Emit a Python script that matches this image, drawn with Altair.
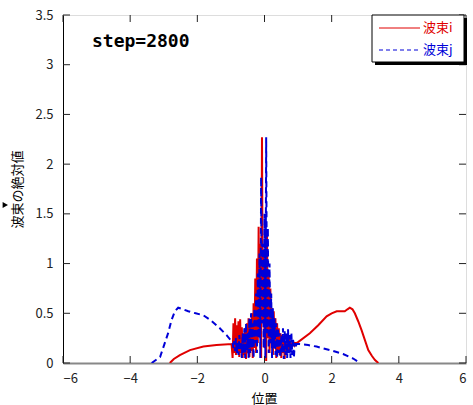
import altair as alt
import pandas as pd

# ---- data ----
grid_c = [round(-0.95 + 0.025 * i, 3) for i in range(77)]  # sampling grid of the central region

red_left_x = [-2.82, -2.70, -2.52, -2.22, -1.82, -1.43, -0.98]
red_left_y = [0.0, 0.04, 0.08, 0.13, 0.165, 0.18, 0.19]
red_mid_y = [0.05, 0.40, 0.10, 0.45, 0.08, 0.38, 0.12, 0.42, 0.06, 0.44,
             0.10, 0.36, 0.05, 0.30, 0.08, 0.35, 0.04, 0.40, 0.10, 0.45,
             0.06, 0.38, 0.12, 0.50, 0.05, 0.60, 0.15, 0.85, 0.10, 1.05,
             0.20, 1.37, 0.30, 1.20, 0.05, 2.27, 0.40, 1.10, 0.15, 0.95,
             0.02, 1.30, 0.25, 0.90, 0.10, 0.75, 0.20, 0.55, 0.08, 0.52,
             0.15, 0.45, 0.05, 0.40, 0.12, 0.35, 0.08, 0.30, 0.05, 0.28,
             0.10, 0.25, 0.04, 0.22, 0.08, 0.26, 0.10, 0.25, 0.12, 0.22,
             0.15, 0.20, 0.17, 0.21, 0.18, 0.20, 0.20]
red_right_x = [1.00, 1.35, 1.60, 1.85, 2.00, 2.15, 2.39, 2.47, 2.54, 2.62,
               2.69, 2.79, 2.89, 3.00, 3.09, 3.20, 3.29, 3.39]
red_right_y = [0.21, 0.30, 0.38, 0.47, 0.50, 0.52, 0.52, 0.54, 0.556, 0.54,
               0.50, 0.42, 0.33, 0.22, 0.13, 0.07, 0.03, 0.0]

blue_left_x = [-3.36, -3.11, -2.87, -2.77, -2.67, -2.57, -2.42, -2.27, -2.05,
               -1.82, -1.60, -1.33, -1.13, -0.98]
blue_left_y = [0.0, 0.06, 0.30, 0.43, 0.52, 0.556, 0.54, 0.52, 0.50,
               0.48, 0.43, 0.35, 0.28, 0.22]
blue_mid_y = [0.20, 0.15, 0.22, 0.12, 0.25, 0.10, 0.20, 0.08, 0.28, 0.12,
              0.22, 0.05, 0.30, 0.10, 0.35, 0.05, 0.40, 0.12, 0.30, 0.05,
              0.45, 0.10, 0.50, 0.15, 0.40, 0.05, 0.55, 0.20, 0.70, 0.10,
              0.90, 0.25, 1.10, 0.05, 1.87, 0.40, 1.20, 0.15, 1.50, 0.05,
              2.27, 0.30, 1.36, 0.10, 1.00, 0.20, 0.70, 0.05, 0.55, 0.15,
              0.45, 0.08, 0.40, 0.05, 0.35, 0.10, 0.30, 0.06, 0.28, 0.10,
              0.35, 0.04, 0.32, 0.08, 0.30, 0.05, 0.34, 0.10, 0.28, 0.05,
              0.30, 0.08, 0.25, 0.05, 0.20, 0.15, 0.19]
blue_right_x = [1.05, 1.30, 1.55, 1.95, 2.34, 2.64, 2.84]
blue_right_y = [0.19, 0.18, 0.165, 0.13, 0.09, 0.045, 0.0]

x_ticks = [-6, -4, -2, 0, 2, 4, 6]
y_ticks = [0, 0.5, 1, 1.5, 2, 2.5, 3, 3.5]

W, H = 403, 348
FONT = "Noto Sans CJK JP"

red = pd.DataFrame({"x": red_left_x + grid_c + red_right_x,
                    "y": red_left_y + red_mid_y + red_right_y})
blue = pd.DataFrame({"x": blue_left_x + grid_c + blue_right_x,
                     "y": blue_left_y + blue_mid_y + blue_right_y})

xs = alt.Scale(domain=[-6, 6], nice=False, zero=False)
ys = alt.Scale(domain=[0, 3.5], nice=False)

x_axis = alt.Axis(values=x_ticks, ticks=False, grid=False, title="位置",
                  labelPadding=9, labelFontSize=13, labelFont=FONT,
                  labelColor="#222", domainColor="#888", domainWidth=2,
                  titleFont=FONT, titleFontSize=13, titleFontWeight="normal",
                  titleX=201, titleY=35, titleBaseline="middle", format="~g")
y_axis = alt.Axis(values=y_ticks, ticks=False, grid=False, title="波束の絶対値",
                  labelPadding=10, labelFontSize=13, labelFont=FONT,
                  labelColor="#222", domainColor="#000", domainWidth=1,
                  titleFont=FONT, titleFontSize=13, titleFontWeight="normal",
                  titleX=-46, titleY=174, titleAngle=-90, titleAlign="center",
                  titleBaseline="middle", format="~g")

red_line = alt.Chart(red).mark_line(color="#e00000", strokeWidth=2, clip=True).encode(
    x=alt.X("x:Q", scale=xs, axis=x_axis),
    y=alt.Y("y:Q", scale=ys, axis=y_axis),
)
blue_line = alt.Chart(blue).mark_line(color="#0000d8", strokeWidth=2,
                                      strokeDash=[6, 4], clip=True).encode(
    x=alt.X("x:Q", scale=xs),
    y=alt.Y("y:Q", scale=ys),
)

xt = pd.DataFrame({"v": x_ticks})
yt = pd.DataFrame({"v": y_ticks})
tick_bot = alt.Chart(xt).mark_rule(color="#222", strokeWidth=1).encode(
    x=alt.X("v:Q", scale=xs), y=alt.value(H), y2=alt.value(H - 7))
tick_top = alt.Chart(xt).mark_rule(color="#222", strokeWidth=1).encode(
    x=alt.X("v:Q", scale=xs), y=alt.value(0), y2=alt.value(7))
tick_left = alt.Chart(yt).mark_rule(color="#222", strokeWidth=1).encode(
    y=alt.Y("v:Q", scale=ys), x=alt.value(0), x2=alt.value(7))
tick_right = alt.Chart(yt).mark_rule(color="#222", strokeWidth=1).encode(
    y=alt.Y("v:Q", scale=ys), x=alt.value(W), x2=alt.value(W - 7))

one = pd.DataFrame({"a": [0]})
step_text = alt.Chart(one).mark_text(text="step=2800", font="DejaVu Sans Mono",
                                     fontWeight="bold", fontSize=18, align="left",
                                     baseline="middle", color="#000").encode(
    x=alt.value(29), y=alt.value(27))
marker = alt.Chart(one).mark_point(shape="M-0.8,-1L1,0L-0.8,1Z", filled=True,
                                   size=36, color="#000", opacity=1).encode(
    x=alt.value(-58), y=alt.value(190))

shadow = alt.Chart(one).mark_rect(color="#000").encode(
    x=alt.value(312), x2=alt.value(404), y=alt.value(3), y2=alt.value(50))
box = alt.Chart(one).mark_rect(fill="white", stroke="#000", strokeWidth=1).encode(
    x=alt.value(309), x2=alt.value(401), y=alt.value(0), y2=alt.value(47))
leg_red = alt.Chart(one).mark_rule(color="#e00000", strokeWidth=1).encode(
    x=alt.value(316), x2=alt.value(357), y=alt.value(13))
leg_blue = alt.Chart(one).mark_rule(color="#0000d8", strokeWidth=1,
                                    strokeDash=[4, 3]).encode(
    x=alt.value(316), x2=alt.value(357), y=alt.value(35))
leg_t1 = alt.Chart(one).mark_text(text="波束i", font=FONT, fontSize=13, align="left",
                                  baseline="middle", color="#e00000").encode(
    x=alt.value(360), y=alt.value(13))
leg_t2 = alt.Chart(one).mark_text(text="波束j", font=FONT, fontSize=13, align="left",
                                  baseline="middle", color="#0000d8").encode(
    x=alt.value(360), y=alt.value(35))

chart = alt.layer(
    red_line, blue_line, tick_bot, tick_top, tick_left, tick_right,
    step_text, marker, shadow, box, leg_red, leg_blue, leg_t1, leg_t2,
).properties(
    width=W, height=H,
    autosize=alt.AutoSizeParams(type="none"),
    padding={"left": 63, "top": 15, "right": 7, "bottom": 42},
).configure_view(stroke="#666", strokeWidth=1).configure(background="white")

chart.save("out.html", embed_options={"renderer": "svg", "actions": False})
